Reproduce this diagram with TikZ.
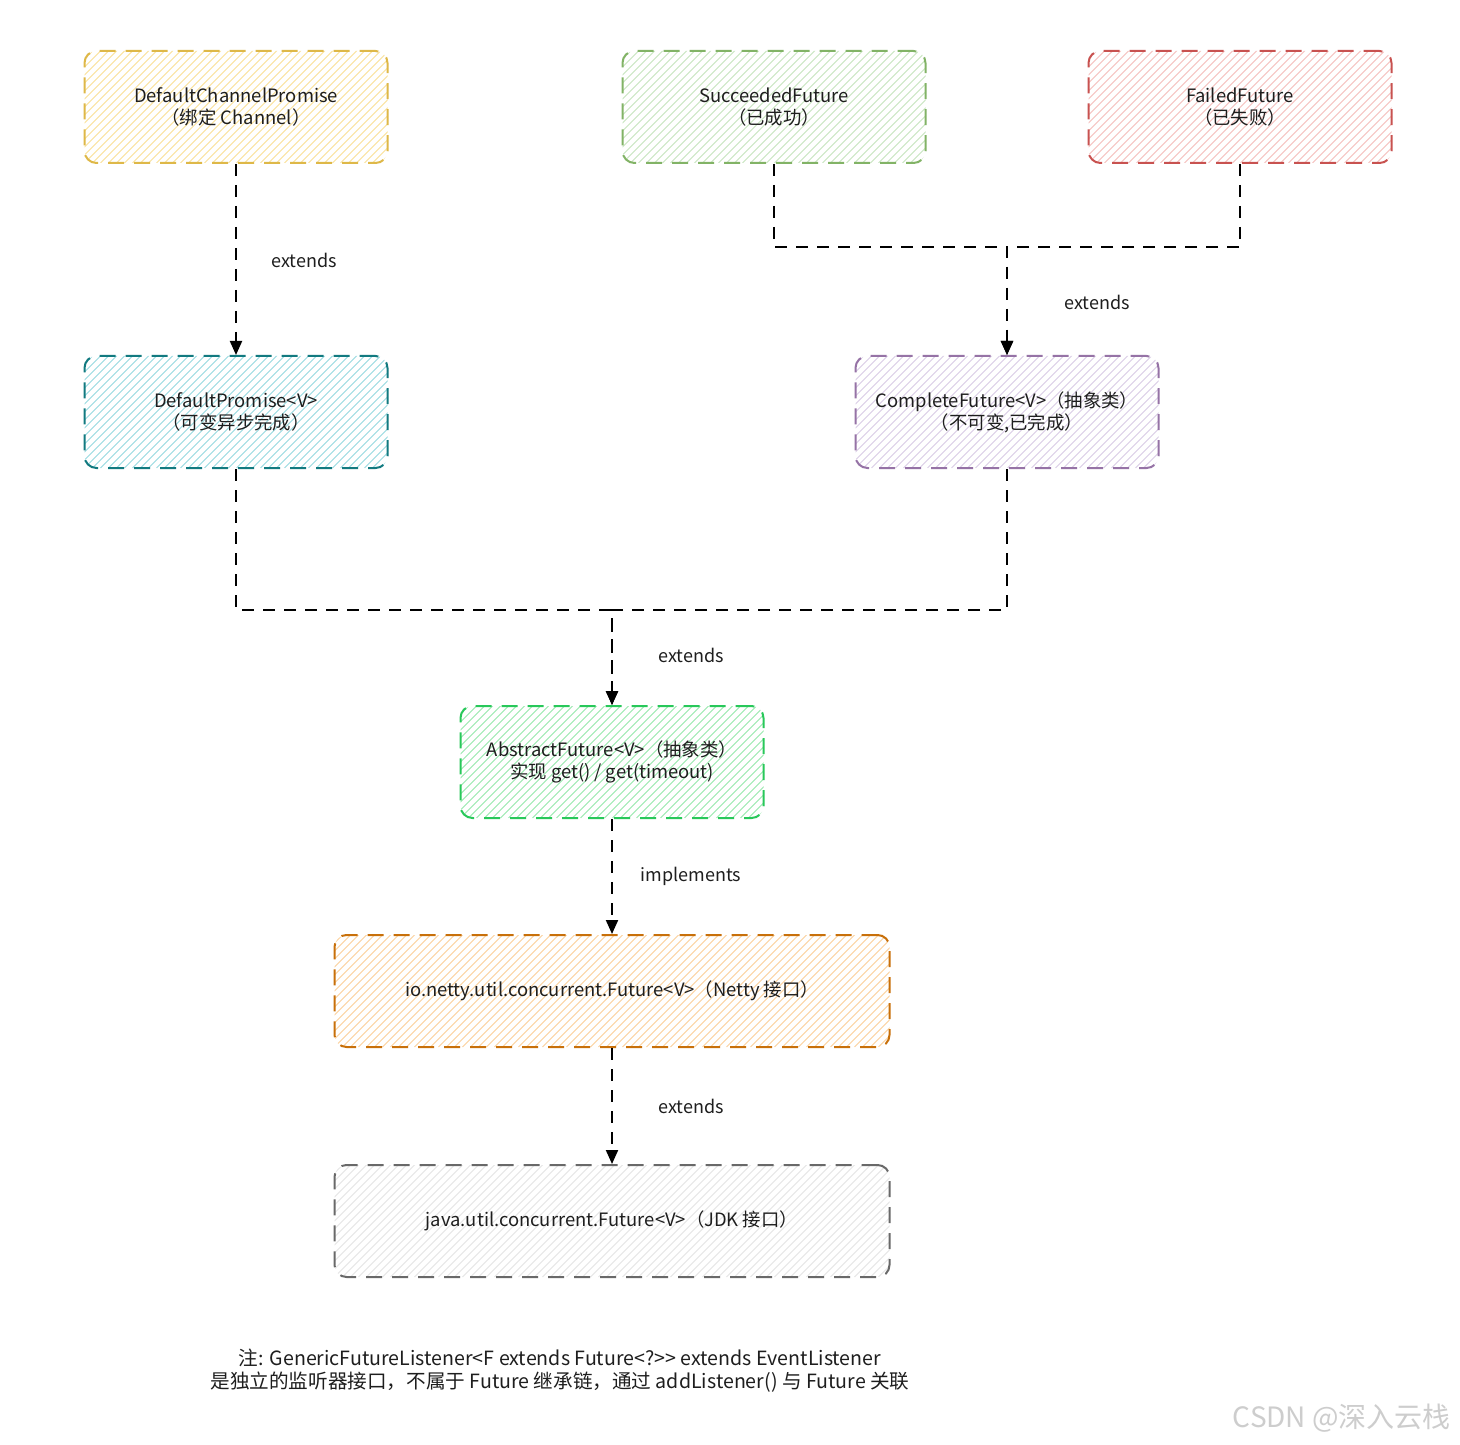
\documentclass[tikz,border=0pt]{standalone}
\usepackage{fontspec}
\setmainfont{Noto Sans CJK SC}
\usetikzlibrary{arrows.meta,calc}
\definecolor{ystroke}{RGB}{222,184,72}
\definecolor{yhatch}{RGB}{250,224,150}
\definecolor{gstroke}{RGB}{130,179,102}
\definecolor{ghatch}{RGB}{198,228,190}
\definecolor{rstroke}{RGB}{200,82,80}
\definecolor{rhatch}{RGB}{245,190,188}
\definecolor{tstroke}{RGB}{18,122,128}
\definecolor{thatch}{RGB}{150,218,224}
\definecolor{pstroke}{RGB}{150,115,166}
\definecolor{phatch}{RGB}{218,204,230}
\definecolor{astroke}{RGB}{40,200,90}
\definecolor{ahatch}{RGB}{150,232,172}
\definecolor{ostroke}{RGB}{200,112,10}
\definecolor{ohatch}{RGB}{252,208,155}
\definecolor{kstroke}{RGB}{105,105,105}
\definecolor{khatch}{RGB}{228,228,228}
\definecolor{txt}{RGB}{30,30,30}
\definecolor{wm}{RGB}{205,205,205}
\tikzset{
  box/.style n args={2}{draw=#1, line width=1pt, dash pattern=on 8pt off 5pt,
    rounded corners=6pt, minimum width=151.5pt, minimum height=56pt,
    align=center, text=txt, font=\fontsize{9.2}{11}\selectfont,
    path picture={\foreach \k in {0,...,95}{\draw[#2,line width=0.5pt,solid]
      ($(path picture bounding box.south west)+(\k*4pt-60pt,0)$) -- ++(70pt,70pt);}}},
  widebox/.style={minimum width=277.5pt},
  conn/.style={draw=black, line width=1pt, dash pattern=on 6pt off 4.5pt,
    -{Triangle[length=7pt,width=6pt]}},
  lbl/.style={text=txt, font=\fontsize{9}{11}\selectfont},
  note/.style={text=txt, align=center, font=\fontsize{9.8}{11.5}\selectfont}
}
\begin{document}
\begin{tikzpicture}[x=0.5pt,y=-0.5pt]
\useasboundingbox (0,0) rectangle (1460,1444);
\fill[white] (0,0) rectangle (1460,1444);

\node[box={ystroke}{yhatch}] (dcp) at (236,107) {DefaultChannelPromise\\（绑定 Channel）};
\node[box={gstroke}{ghatch}] (sf) at (774,107) {SucceededFuture\\（已成功）};
\node[box={rstroke}{rhatch}] (ff) at (1240,107) {FailedFuture\\（已失败）};
\node[box={tstroke}{thatch}] (dp) at (236,412) {DefaultPromise<V>\\（可变异步完成）};
\node[box={pstroke}{phatch}] (cf) at (1007,412) {CompleteFuture<V>（抽象类）\\（不可变,已完成）};
\node[box={astroke}{ahatch}] (af) at (612,762) {AbstractFuture<V>（抽象类）\\实现 get() / get(timeout)};
\node[box={ostroke}{ohatch},widebox] (nf) at (612,991) {io.netty.util.concurrent.Future<V>（Netty 接口）};
\node[box={kstroke}{khatch},widebox] (jf) at (612,1221) {java.util.concurrent.Future<V>（JDK 接口）};

\coordinate (j1) at (1007,247);
\coordinate (j2) at (612,610);

\draw[conn] (dcp.south) -- (dp.north);
\draw[conn] (sf.south) |- (j1) -- (cf.north);
\draw[conn] (ff.south) |- (j1) -- (cf.north);
\draw[conn] (dp.south) |- (j2) -- (af.north);
\draw[conn] (cf.south) |- (j2) -- (af.north);
\draw[conn] (af.south) -- (nf.north);
\draw[conn] (nf.south) -- (jf.north);

\node[lbl] (l1) at (304,260) {extends};
\node[lbl] (l2) at (1097,302) {extends};
\node[lbl] (l3) at (691,655) {extends};
\node[lbl] (l4) at (691,876) {implements};
\node[lbl] (l5) at (691,1106) {extends};

\node[note] (nt) at (560,1371) {注: GenericFutureListener<F extends Future<?>{}> extends EventListener\\是独立的监听器接口，不属于 Future 继承链，通过 addListener() 与 Future 关联};

\node[text=wm, font=\fontsize{14}{16}\selectfont, anchor=east] (csdn) at (1458,1418) {CSDN @深入云栈};
\end{tikzpicture}
\end{document}
